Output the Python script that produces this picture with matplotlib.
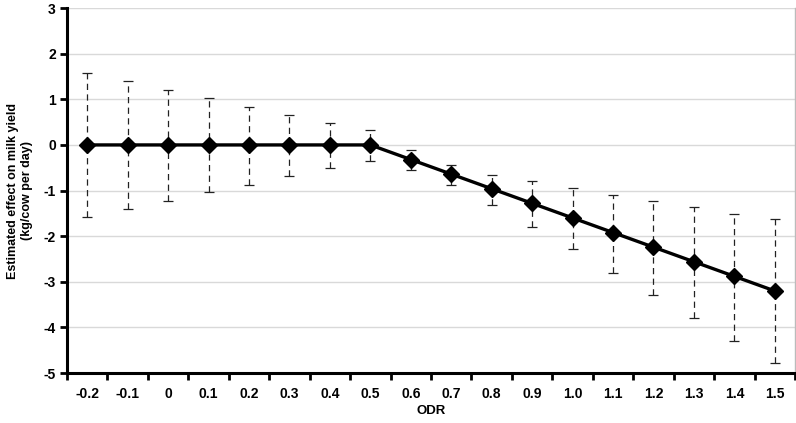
import numpy as np
import matplotlib
matplotlib.use('Agg')
import matplotlib.pyplot as plt

plt.rcParams['font.family'] = ['Liberation Sans', 'DejaVu Sans']
plt.rcParams['font.weight'] = 'bold'

# ODR categories and estimated effects with confidence limits
odr_labels = ['-0.2', '-0.1', '0', '0.1', '0.2', '0.3', '0.4', '0.5', '0.6',
              '0.7', '0.8', '0.9', '1.0', '1.1', '1.2', '1.3', '1.4', '1.5']
effect = [0, 0, 0, 0, 0, 0, 0, 0, -0.32, -0.64, -0.96, -1.28, -1.60,
          -1.92, -2.24, -2.56, -2.88, -3.20]
upper = [1.58, 1.40, 1.21, 1.02, 0.84, 0.66, 0.49, 0.32, -0.11, -0.43,
         -0.65, -0.78, -0.95, -1.09, -1.22, -1.36, -1.51, -1.63]
lower = [-1.59, -1.40, -1.22, -1.04, -0.87, -0.69, -0.51, -0.35, -0.56, -0.88,
         -1.32, -1.80, -2.29, -2.80, -3.28, -3.79, -4.30, -4.78]

x = np.arange(len(odr_labels))
effect = np.array(effect)
yerr = [effect - np.array(lower), np.array(upper) - effect]

fig = plt.figure(figsize=(7.96, 4.23), dpi=100)
ax = fig.add_axes([0.0842, 0.118, 0.9146, 0.863])

# error bars (dashed) drawn beneath the line
eb = ax.errorbar(x, effect, yerr=yerr, fmt='none', ecolor='#222222',
                 elinewidth=0.9, capsize=3.5, capthick=0.9, zorder=2)
eb[2][0].set_linestyle((0, (5, 3.5)))

ax.plot(x, effect, color='black', linewidth=2.4, marker='D',
        markersize=8.5, zorder=3)

ax.set_xlim(-0.5, len(odr_labels) - 0.5)
ax.set_ylim(-5, 3)
ax.set_yticks(range(-5, 4))
ax.set_yticklabels([str(v) for v in range(-5, 4)])
ax.yaxis.grid(True, color='#d9d9d9', linewidth=1)
ax.set_axisbelow(True)

# ticks between categories, labels at the centres
ax.set_xticks(np.arange(-0.5, len(odr_labels) + 0.5, 1))
ax.set_xticklabels([])
ax.set_xticks(x, minor=True)
ax.set_xticklabels(odr_labels, minor=True)
ax.tick_params(axis='x', which='minor', length=0, pad=10, labelsize=10)
ax.tick_params(axis='x', which='major', direction='out', length=5, width=2)
ax.tick_params(axis='y', direction='out', length=5, width=2, labelsize=10, pad=3)

ax.spines['left'].set_linewidth(2.2)
ax.spines['bottom'].set_linewidth(2.2)
ax.spines['top'].set_visible(False)
ax.spines['right'].set_color('#bbbbbb')
ax.spines['right'].set_linewidth(1)

ax.set_xlabel('ODR', fontsize=9.5, fontweight='bold', labelpad=3)
ax.set_ylabel('Estimated effect on milk yield\n(kg/cow per day)', fontsize=9,
              fontweight='bold', labelpad=8)

fig.savefig('out.png', dpi=100)
